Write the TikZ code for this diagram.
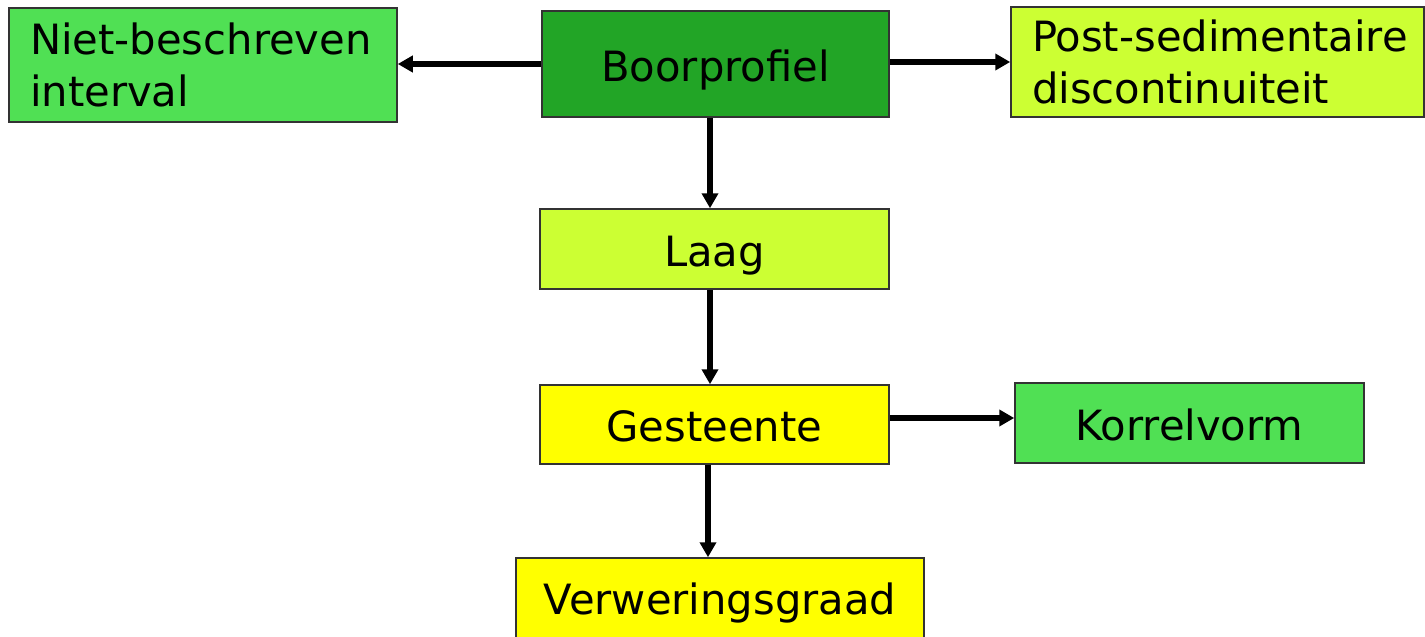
\documentclass[tikz,border=0pt]{standalone}
\usepackage{fontspec}
\setmainfont{DejaVu Sans}
\usetikzlibrary{arrows.meta}
\definecolor{midgreen}{RGB}{80,224,84}
\definecolor{darkgreen}{RGB}{34,165,38}
\definecolor{lime}{RGB}{204,255,51}
\definecolor{yel}{RGB}{255,255,0}
\tikzset{
  box/.style={draw=black!80, line width=1.5pt, inner sep=0pt, font=\fontsize{41.7}{52}\selectfont},
  onebox/.style={box, text height=38.4pt, text depth=4pt},
  conn/.style={line width=5.5pt, -{Triangle[length=15pt,width=16pt]}}
}
\begin{document}
\begin{tikzpicture}[x=1pt,y=-1pt]
\useasboundingbox (0,0) rectangle (1425,637);
\node[box, fill=midgreen, minimum width=388pt, minimum height=114pt, text width=346pt, align=left] (niet) at (203,65) {Niet-beschreven\\interval};
\node[onebox, fill=darkgreen, minimum width=347pt, minimum height=106pt] (boor) at (715.5,64) {Boorprofiel};
\node[box, fill=lime, minimum width=413pt, minimum height=110pt, text width=371pt, align=left] (post) at (1217.5,62) {\mbox{Post-sedimentaire}\\discontinuiteit};
\node[onebox, fill=lime, minimum width=349pt, minimum height=80pt] (laag) at (714.5,249) {Laag};
\node[onebox, fill=yel, minimum width=349pt, minimum height=79pt] (gest) at (714.5,424.5) {Gesteente};
\node[onebox, fill=midgreen, minimum width=349pt, minimum height=80pt] (korrel) at (1189.5,423) {Korrelvorm};
\node[box, text height=30.4pt, text depth=10pt, fill=yel, minimum width=408pt, minimum height=92pt] (verw) at (720,604) {Verweringsgraad};
\draw[conn] (boor.west) -- (niet.east |- boor.west);
\draw[conn] (boor.east |- post.west) -- (post.west);
\draw[conn] ([xshift=-5.5pt]boor.south) -- ([xshift=-4.5pt]laag.north);
\draw[conn] ([xshift=-4.5pt]laag.south) -- ([xshift=-4.5pt]gest.north);
\draw[conn] ([yshift=6.5pt]gest.east) -- ([yshift=5pt]korrel.west);
\draw[conn] ([xshift=-6.5pt]gest.south) -- ([xshift=-12pt]verw.north);
\end{tikzpicture}
\end{document}
